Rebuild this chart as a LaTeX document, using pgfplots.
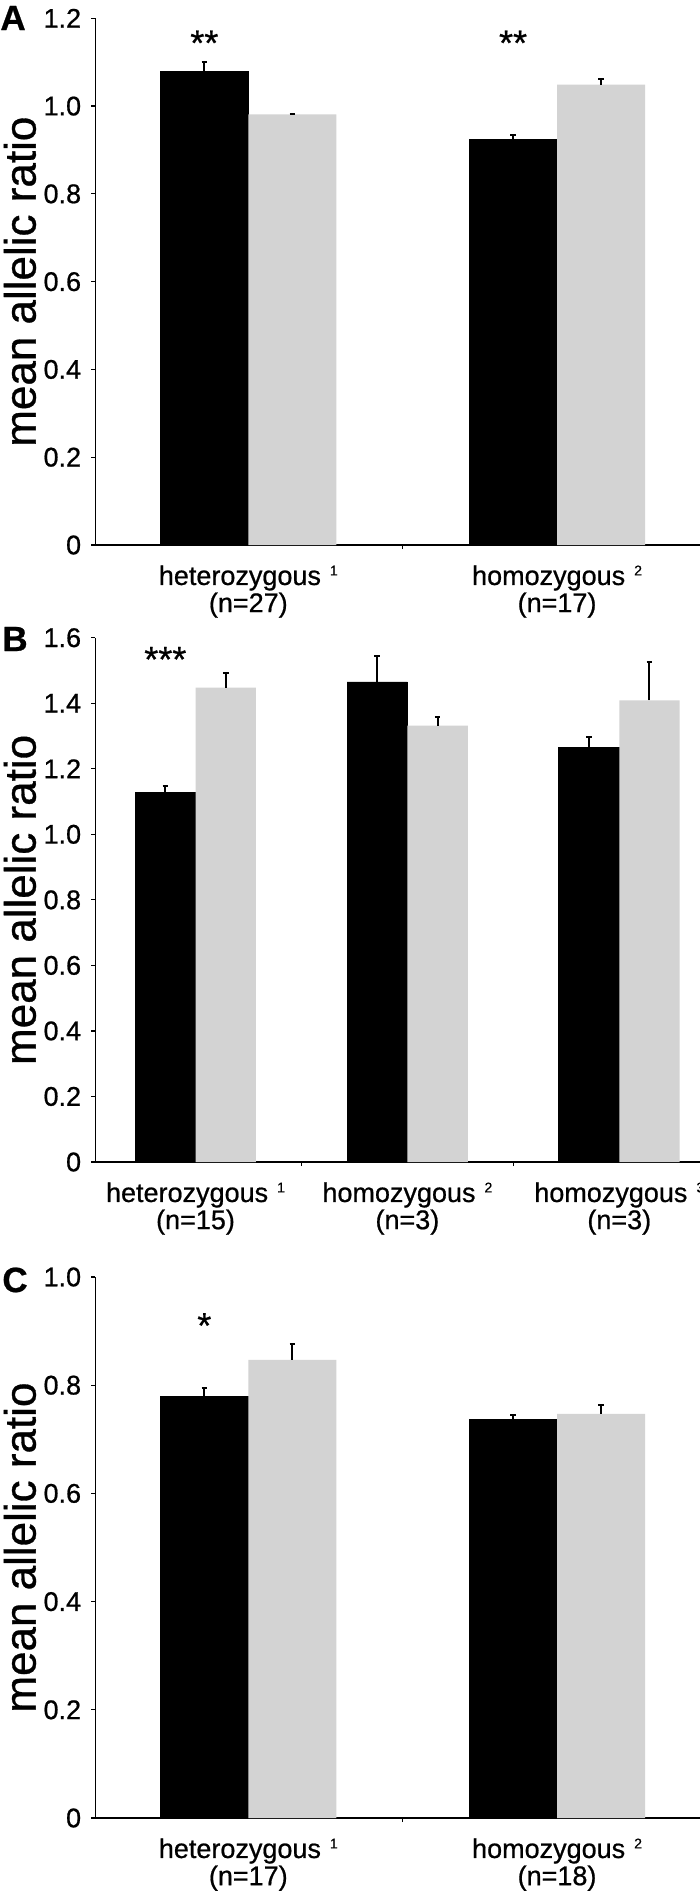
\documentclass[border=0pt]{standalone}
\usepackage{fontspec}
\setmainfont{Liberation Sans}[FakeBold=0.7]
\usepackage{pgfplots}
\pgfplotsset{compat=1.18}
\definecolor{lgray}{RGB}{211,211,211}

\pgfplotsset{
  panel/.style={
    scale only axis,
    axis lines*=left,
    axis line style={line width=0.6pt, black},
    tick align=outside,
    major tick length=2pt,
    minor tick length=2pt,
    every tick/.style={line width=0.6pt, black},
    major x tick style={draw=none},
    minor x tick num=1,
    ymin=0,
    width=302.25pt,
    yticklabel style={font=\fontsize{13.5}{13.5}\selectfont, inner sep=0pt, xshift=-5pt},
    xticklabel style={font=\fontsize{13.5}{12.3}\selectfont, align=center, anchor=north, inner sep=0pt, yshift=-8pt},
    ylabel={mean allelic ratio},
    ylabel style={font=\fontsize{22}{22}\selectfont, at={(axis description cs:-0.099,0.5)}, anchor=base},
    clip=false,
  },
  blackbar/.style={ybar, bar width=0.285, bar shift=0pt, fill=black, draw=black,
    error bars/.cd, y dir=plus, y explicit,
    error bar style={line width=1pt, black},
    error mark options={rotate=90, line width=1pt, black, mark size=1.4pt}},
  graybar/.style={ybar, bar width=0.285, bar shift=0pt, fill=lgray, draw=none,
    error bars/.cd, y dir=plus, y explicit,
    error bar style={line width=1pt, black},
    error mark options={rotate=90, line width=1pt, black, mark size=1.4pt}},
}
\newcommand{\sups}[1]{\hspace{4.5pt}\raisebox{4.8pt}{\fontsize{7}{7}\selectfont #1}}

\begin{document}
\begin{tikzpicture}
\useasboundingbox (0,0) rectangle (350pt,-947.5pt);

% ---------- Panel A ----------
\begin{axis}[panel, at={(47.75pt,-272.5pt)}, anchor=south west, height=263.35pt,
  xmin=-0.495, xmax=1.463, ymax=1.2,
  ytick={0,0.2,0.4,0.6,0.8,1.0,1.2},
  yticklabels={0,0.2,0.4,0.6,0.8,1.0,1.2},
  xtick={0,1},
  xticklabels={heterozygous\sups{1}\\(n=27), homozygous\sups{2}\\(n=17)}]
\addplot[blackbar] table[x expr=\thisrow{x}-0.1425, y=y, y error=e] {
x y e
0 1.079 0.022
1 0.923 0.011
};
\addplot[graybar] table[x expr=\thisrow{x}+0.1425, y=y, y error=e] {
x y e
0 0.981 0.002
1 1.049 0.012
};
\node[font=\fontsize{18}{18}\selectfont, anchor=north, inner sep=0pt] at (axis cs:-0.1425,1.173) {**};
\node[font=\fontsize{18}{18}\selectfont, anchor=north, inner sep=0pt] at (axis cs:0.8575,1.173) {**};
\end{axis}
\node[font=\bfseries\fontsize{17.5}{17.5}\selectfont, anchor=base west, inner sep=0pt] at (0pt,-15pt) {A};

% ---------- Panel B ----------
\begin{axis}[panel, at={(47.75pt,-581pt)}, anchor=south west, height=262.15pt,
  xmin=-0.472, xmax=2.381, ymax=1.6,
  ytick={0,0.2,0.4,0.6,0.8,1.0,1.2,1.4,1.6},
  yticklabels={0,0.2,0.4,0.6,0.8,1.0,1.2,1.4,1.6},
  xtick={0,1,2},
  xticklabels={heterozygous\sups{1}\\(n=15), homozygous\sups{2}\\(n=3), homozygous\sups{3}\\(n=3)}]
\addplot[blackbar] table[x expr=\thisrow{x}-0.1425, y=y, y error=e] {
x y e
0 1.127 0.022
1 1.465 0.078
2 1.264 0.034
};
\addplot[graybar] table[x expr=\thisrow{x}+0.1425, y=y, y error=e] {
x y e
0 1.448 0.044
1 1.332 0.027
2 1.409 0.116
};
\node[font=\fontsize{18}{18}\selectfont, anchor=north, inner sep=0pt] at (axis cs:-0.1425,1.573) {***};
\end{axis}
\node[font=\bfseries\fontsize{17.5}{17.5}\selectfont, anchor=base west, inner sep=0pt] at (1pt,-325.5pt) {B};

% ---------- Panel C ----------
\begin{axis}[panel, at={(47.75pt,-909pt)}, anchor=south west, height=270.5pt,
  xmin=-0.495, xmax=1.463, ymax=1.0,
  ytick={0,0.2,0.4,0.6,0.8,1.0},
  yticklabels={0,0.2,0.4,0.6,0.8,1.0},
  xtick={0,1},
  xticklabels={heterozygous\sups{1}\\(n=17), homozygous\sups{2}\\(n=18)}]
\addplot[blackbar] table[x expr=\thisrow{x}-0.1425, y=y, y error=e] {
x y e
0 0.780 0.015
1 0.737 0.008
};
\addplot[graybar] table[x expr=\thisrow{x}+0.1425, y=y, y error=e] {
x y e
0 0.847 0.029
1 0.747 0.017
};
\node[font=\fontsize{18}{18}\selectfont, anchor=north, inner sep=0pt] at (axis cs:-0.1425,0.934) {*};
\end{axis}
\node[font=\bfseries\fontsize{17.5}{17.5}\selectfont, anchor=base west, inner sep=0pt] at (1pt,-646pt) {C};

\end{tikzpicture}
\end{document}
